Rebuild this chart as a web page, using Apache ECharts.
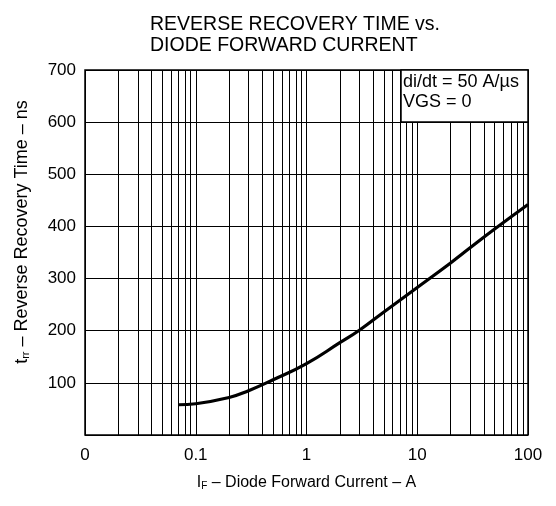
<!DOCTYPE html>
<html>
<head>
<meta charset="utf-8">
<script src="https://cdn.jsdelivr.net/npm/echarts@6/dist/echarts.min.js"></script>
<style>
  html, body { margin: 0; padding: 0; background: #fff; }
  #chart { width: 556px; height: 506px; }
</style>
</head>
<body>
<div id="chart"></div>
<script>
// curve
var current = [0.07, 0.1, 0.2, 0.3, 0.5, 1, 2, 3, 5, 10, 20, 30, 50, 100];
var trr = [58, 60, 72, 85, 106, 137, 177, 201, 236, 283, 330, 359, 395, 442];

// extra vertical grid lines of the log paper (2..9 in each decade)
var minorGrid = [
  0.02, 0.03, 0.04, 0.05, 0.06, 0.07, 0.08, 0.09,
  0.2, 0.3, 0.4, 0.5, 0.6, 0.7, 0.8, 0.9,
  2, 3, 4, 5, 6, 7, 8, 9,
  20, 30, 40, 50, 60, 70, 80, 90
];
var yTicks = [0, 100, 200, 300, 400, 500, 600, 700];

var font = "'Liberation Sans', Arial, sans-serif";
var chartDom = document.getElementById("chart");
var myChart = echarts.init(chartDom);
var option;

option = {
  animation: false,
  backgroundColor: "#fff",
  title: {
    text: "REVERSE RECOVERY TIME vs.\nDIODE FORWARD CURRENT",
    left: 145,
    top: 9,
    textStyle: {
      color: "#000",
      fontFamily: font,
      fontWeight: "normal",
      fontSize: 19.5,
      lineHeight: 21,
    },
  },
  grid: {
    left: 85,
    right: 28,
    top: 70,
    bottom: 71,
    show: true,
    borderColor: "#000",
    borderWidth: 1.5,
  },
  xAxis: {
    type: "log",
    logBase: 10,
    min: 0.01,
    max: 100,
    axisLine: { show: false },
    axisTick: { show: false },
    splitLine: { show: true, lineStyle: { color: "#000", width: 1 } },
    axisLabel: {
      color: "#000",
      fontFamily: font,
      fontSize: 17,
      margin: 12,
      formatter: function (v) {
        return v < 0.05 ? "0" : String(v);
      },
    },
    name: "{m|I}{s|F}{m| – Diode Forward Current – A}",
    nameLocation: "middle",
    nameGap: 40,
    nameTextStyle: {
      rich: {
        m: { color: "#000", fontFamily: font, fontSize: 16 },
        s: { color: "#000", fontFamily: font, fontSize: 10, verticalAlign: "bottom" },
      },
    },
  },
  yAxis: {
    type: "value",
    min: yTicks[0],
    max: yTicks[yTicks.length - 1],
    interval: 100,
    axisLine: { show: false },
    axisTick: { show: false },
    splitLine: { show: true, lineStyle: { color: "#000", width: 1 } },
    axisLabel: {
      color: "#000",
      fontFamily: font,
      fontSize: 17,
      margin: 9,
      formatter: function (v) {
        return v === 0 ? "" : String(v);
      },
    },
  },
  series: [
    {
      type: "line",
      data: current.map(function (c, i) {
        return [c, trr[i]];
      }),
      smooth: true,
      symbol: "none",
      lineStyle: { color: "#000", width: 3.2 },
      z: 5,
      markLine: {
        silent: true,
        symbol: "none",
        label: { show: false },
        lineStyle: { color: "#000", width: 1, type: "solid" },
        data: minorGrid.map(function (v) {
          return { xAxis: v };
        }),
      },
    },
  ],
  graphic: [
    {
      type: "text",
      x: 22,
      y: 232,
      rotation: Math.PI / 2,
      z: 100,
      style: {
        text: "{m|t}{s|rr}{m| – Reverse Recovery Time – ns}",
        align: "center",
        verticalAlign: "middle",
        rich: {
          m: { fill: "#000", fontFamily: font, fontSize: 18 },
          s: { fill: "#000", fontFamily: font, fontSize: 11, verticalAlign: "bottom" },
        },
      },
    },
    {
      type: "group",
      z: 100,
      children: [
        {
          type: "rect",
          shape: { x: 401, y: 70, width: 127, height: 52 },
          style: { fill: "#fff", stroke: "#000", lineWidth: 1.5 },
          z: 100,
        },
        {
          type: "text",
          left: 403,
          top: 72,
          z: 101,
          style: {
            text: "di/dt = 50 A/µs\nVGS = 0",
            fill: "#000",
            font: "18px " + font,
            lineHeight: 20,
          },
        },
      ],
    },
  ],
};

option && myChart.setOption(option);
</script>
</body>
</html>
